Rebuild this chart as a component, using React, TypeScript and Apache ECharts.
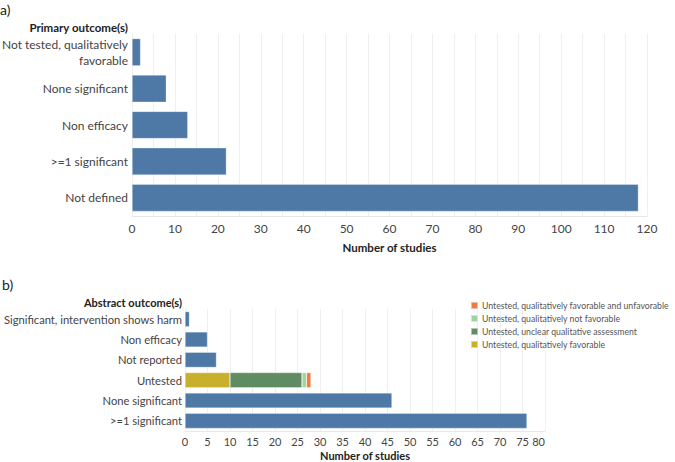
import React, { useEffect, useRef } from "react";
import * as echarts from "echarts";

const primaryCategories = [
  "Not tested, qualitatively\nfavorable",
  "None significant",
  "Non efficacy",
  ">=1 significant",
  "Not defined",
];
const primaryValues = [2, 8, 13, 22, 118];

const abstractCategories = [
  "Significant, intervention shows harm",
  "Non efficacy",
  "Not reported",
  "Untested",
  "None significant",
  ">=1 significant",
];
const abstractTotals = [1, 5, 7, null, 46, 76];
const untestedFavorable = [null, null, null, 10, null, null];
const untestedUnclear = [null, null, null, 16, null, null];
const untestedNotFavorable = [null, null, null, 1, null, null];
const untestedMixed = [null, null, null, 1, null, null];

const legendNames = [
  "Untested, qualitatively favorable and unfavorable",
  "Untested, qualitatively not favorable",
  "Untested, unclear qualitative assessment",
  "Untested, qualitatively favorable",
];

const BLUE = "#4e79a7";
const YELLOW = "#c8b02c";
const DGREEN = "#5f8c62";
const LGREEN = "#a3d1a6";
const ORANGE = "#ef7b3e";
const FONT = "Lato";
const TXT = "#444";

export default function App() {
  const ref = useRef<HTMLDivElement>(null);
  useEffect(() => {
    const chart = echarts.init(ref.current!, null, { renderer: "svg" });
    const barBorder = { borderColor: "rgba(255,255,255,0.5)", borderWidth: 0.6 };
    chart.setOption({
      animation: false,
      textStyle: { fontFamily: FONT, color: TXT },
      grid: [
        { left: 132, top: 34, width: 515, height: 182, outerBoundsMode: "none", containLabel: false },
        { left: 185, top: 309, width: 360, height: 122, outerBoundsMode: "none", containLabel: false },
      ],
      legend: {
        data: legendNames,
        orient: "vertical",
        left: 470,
        top: 301,
        padding: 0,
        itemWidth: 7,
        itemHeight: 7,
        itemGap: 4,
        icon: "rect",
        textStyle: { fontFamily: FONT, fontSize: 8.7, color: "#555", padding: [0, 0, 0, -1] },
      },
      xAxis: [
        {
          gridIndex: 0,
          type: "value",
          min: 0,
          max: 120,
          interval: 5,
          axisLine: { show: true, lineStyle: { color: "#e8e8e8" } },
          axisTick: { show: false },
          splitLine: { show: true, lineStyle: { color: "#efefef" } },
          axisLabel: {
            fontFamily: FONT,
            fontSize: 12,
            color: TXT,
            margin: 6,
            formatter: (v: number) => (v % 10 === 0 ? String(v) : ""),
          },
          name: "Number of studies",
          nameLocation: "middle",
          nameGap: 25,
          nameTextStyle: { fontFamily: FONT, fontSize: 11.5, fontWeight: "bold", color: "#222" },
        },
        {
          gridIndex: 1,
          type: "value",
          min: 0,
          max: 80,
          interval: 5,
          axisLine: { show: true, lineStyle: { color: "#e8e8e8" } },
          axisTick: { show: false },
          splitLine: { show: true, lineStyle: { color: "#efefef" } },
          axisLabel: {
            fontFamily: FONT,
            fontSize: 11,
            color: TXT,
            margin: 5,
            alignMaxLabel: "right",
          },
          name: "Number of studies",
          nameLocation: "middle",
          nameGap: 19,
          nameTextStyle: { fontFamily: FONT, fontSize: 11, fontWeight: "bold", color: "#222" },
        },
      ],
      yAxis: [
        {
          gridIndex: 0,
          type: "category",
          inverse: true,
          data: primaryCategories,
          axisLine: { show: false },
          axisTick: { show: false },
          axisLabel: { fontFamily: FONT, fontSize: 12, color: TXT, margin: 4, lineHeight: 16 },
        },
        {
          gridIndex: 1,
          type: "category",
          inverse: true,
          data: abstractCategories,
          axisLine: { show: false },
          axisTick: { show: false },
          axisLabel: { fontFamily: FONT, fontSize: 11.2, color: TXT, margin: 3 },
        },
      ],
      graphic: [
        { type: "text", left: 0, top: 2, style: { text: "a)", font: `14px ${FONT}`, fill: "#222" } },
        {
          type: "text",
          x: 128,
          y: 27,
          style: { text: "Primary outcome(s)", font: `bold 11.5px ${FONT}`, fill: "#222", textAlign: "right", textVerticalAlign: "middle" },
        },
        { type: "text", left: 2, top: 277, style: { text: "b)", font: `14px ${FONT}`, fill: "#222" } },
        {
          type: "text",
          x: 182,
          y: 302,
          style: { text: "Abstract outcome(s)", font: `bold 11px ${FONT}`, fill: "#222", textAlign: "right", textVerticalAlign: "middle" },
        },
      ],
      series: [
        {
          type: "bar",
          xAxisIndex: 0,
          yAxisIndex: 0,
          data: primaryValues,
          barCategoryGap: "25%",
          itemStyle: { color: BLUE, ...barBorder },
        },
        {
          name: "Total",
          type: "bar",
          xAxisIndex: 1,
          yAxisIndex: 1,
          stack: "b",
          data: abstractTotals,
          barCategoryGap: "25%",
          itemStyle: { color: BLUE, ...barBorder },
        },
        {
          name: legendNames[3],
          type: "bar",
          xAxisIndex: 1,
          yAxisIndex: 1,
          stack: "b",
          data: untestedFavorable,
          itemStyle: { color: YELLOW, ...barBorder },
        },
        {
          name: legendNames[2],
          type: "bar",
          xAxisIndex: 1,
          yAxisIndex: 1,
          stack: "b",
          data: untestedUnclear,
          itemStyle: { color: DGREEN, ...barBorder },
        },
        {
          name: legendNames[1],
          type: "bar",
          xAxisIndex: 1,
          yAxisIndex: 1,
          stack: "b",
          data: untestedNotFavorable,
          itemStyle: { color: LGREEN, ...barBorder },
        },
        {
          name: legendNames[0],
          type: "bar",
          xAxisIndex: 1,
          yAxisIndex: 1,
          stack: "b",
          data: untestedMixed,
          itemStyle: { color: ORANGE, ...barBorder },
        },
      ],
    });
    return () => chart.dispose();
  }, []);
  return (
    <div
      ref={ref}
      style={{ position: "fixed", left: 0, top: 0, width: 675, height: 462, background: "#fff" }}
    />
  );
}
